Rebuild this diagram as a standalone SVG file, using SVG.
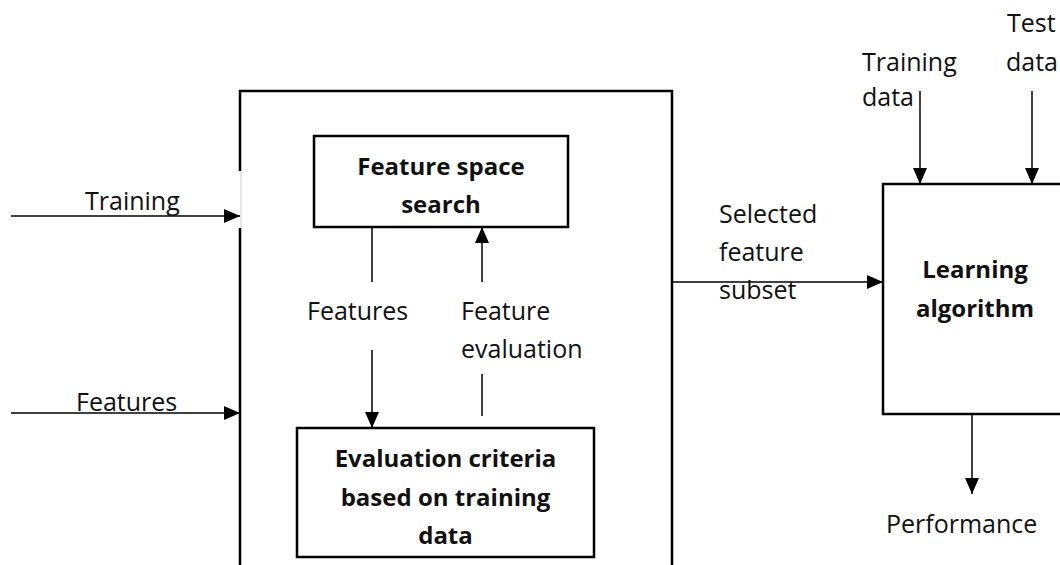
<svg xmlns="http://www.w3.org/2000/svg" width="1060" height="565" viewBox="0 0 1060 565">
<style>
  .box { fill: none; stroke: #000; stroke-width: 2.5; }
  .line { fill: none; stroke: #000; stroke-width: 1.5; }
  .arr { fill: none; stroke: #000; stroke-width: 1.5; marker-end: url(#ah); }
  text { font-family: "Open Sans", "Noto Sans", sans-serif; font-size: 25px; fill: #111; }
  .b { font-weight: bold; font-size: 24px; text-anchor: middle; }
</style>
<defs>
  <marker id="ah" markerUnits="userSpaceOnUse" markerWidth="16" markerHeight="16" refX="16" refY="8" orient="auto">
    <path d="M0,1 L16,8 L0,15 Z" fill="#000"/>
  </marker>
</defs>
<rect width="1060" height="565" fill="#fff"/>
<g id="outer-box">
  <path class="box" d="M240,171 V91 H672 V570 M240,228 V570"/>
  <line x1="241" y1="171" x2="241" y2="228" stroke="#bbb" stroke-width="0.8"/>
</g>
<g id="feature-space-search">
  <rect class="box" x="314" y="136" width="254" height="91"/>
  <text class="b" x="441" y="175">Feature space</text>
  <text class="b" x="441" y="213">search</text>
</g>
<g id="evaluation-criteria">
  <rect class="box" x="297" y="428" width="297" height="129"/>
  <text class="b" x="445.5" y="467">Evaluation criteria</text>
  <text class="b" x="445.5" y="506">based on training</text>
  <text class="b" x="445.5" y="544">data</text>
</g>
<g id="learning-algorithm">
  <rect class="box" x="883" y="184" width="184" height="230"/>
  <text class="b" x="975" y="278">Learning</text>
  <text class="b" x="975" y="317">algorithm</text>
</g>
<g id="connectors">
  <line class="arr" x1="11" y1="216" x2="240" y2="216"/>
  <line class="arr" x1="11" y1="413" x2="240" y2="413"/>
  <line class="line" x1="372" y1="227" x2="372" y2="282"/>
  <line class="arr" x1="372" y1="350" x2="372" y2="428"/>
  <line class="line" x1="482" y1="416" x2="482" y2="374"/>
  <line class="arr" x1="482" y1="282" x2="482" y2="227"/>
  <line class="arr" x1="672" y1="282" x2="883" y2="282"/>
  <line class="arr" x1="920" y1="91" x2="920" y2="184"/>
  <line class="arr" x1="1032" y1="91" x2="1032" y2="184"/>
  <line class="arr" x1="972" y1="414" x2="972" y2="494"/>
</g>
<g id="labels">
  <text x="85" y="210">Training</text>
  <text x="76" y="411">Features</text>
  <text x="307" y="320">Features</text>
  <text x="461" y="320">Feature</text>
  <text x="461" y="358">evaluation</text>
  <text x="719" y="223">Selected</text>
  <text x="719" y="261">feature</text>
  <text x="719" y="299">subset</text>
  <text x="862" y="71">Training</text>
  <text x="862" y="106">data</text>
  <text x="1007" y="32">Test</text>
  <text x="1006" y="71">data</text>
  <text x="886" y="533">Performance</text>
</g>
</svg>
